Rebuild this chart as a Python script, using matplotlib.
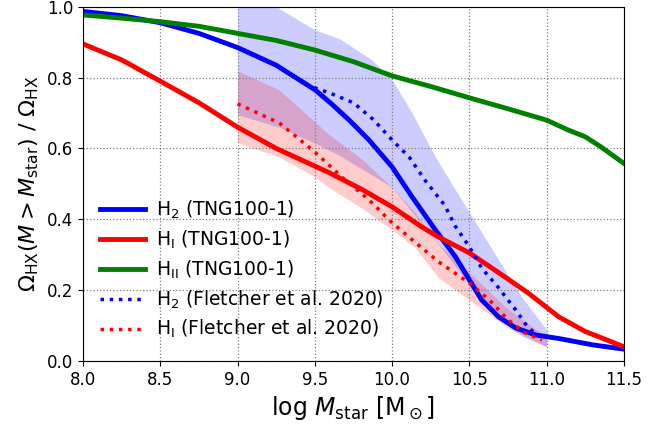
import matplotlib
matplotlib.use("Agg")
import matplotlib.pyplot as plt

# TNG100-1 cumulative fractions
x_h2 = [8.0, 8.25, 8.5, 8.75, 9.0, 9.25, 9.5, 9.6, 9.72, 9.85, 10.0, 10.13, 10.28, 10.41, 10.5,
        10.58, 10.69, 10.8, 10.93, 11.08, 11.3, 11.5]
y_h2 = [0.987, 0.975, 0.955, 0.925, 0.885, 0.835, 0.766, 0.729, 0.681, 0.624, 0.548, 0.463, 0.37, 0.294, 0.229,
        0.172, 0.124, 0.093, 0.073, 0.063, 0.045, 0.033]

x_hi = [8.0, 8.25, 8.5, 8.75, 9.0, 9.25, 9.5, 9.59, 9.81, 10.0, 10.19, 10.3, 10.5, 10.69, 10.88, 11.08, 11.25, 11.5]
y_hi = [0.895, 0.85, 0.79, 0.729, 0.66, 0.60, 0.55, 0.532, 0.483, 0.435, 0.379, 0.35, 0.305, 0.249, 0.192, 0.124, 0.083, 0.04]

x_hii = [8.0, 8.25, 8.5, 8.75, 8.95, 9.25, 9.5, 9.75, 10.0, 10.25, 10.5, 10.75, 11.0, 11.14, 11.25, 11.35, 11.5]
y_hii = [0.977, 0.968, 0.958, 0.945, 0.929, 0.905, 0.878, 0.845, 0.805, 0.775, 0.743, 0.712, 0.68, 0.652, 0.633, 0.605, 0.558]

# Fletcher et al. 2020
x_f_h2 = [9.44, 9.594, 9.75, 9.88, 10.0, 10.11, 10.22, 10.34, 10.41, 10.5, 10.58, 10.69, 10.8, 10.87, 10.93]
y_f_h2 = [0.78, 0.757, 0.729, 0.681, 0.624, 0.576, 0.506, 0.44, 0.38, 0.322, 0.262, 0.206, 0.144, 0.10, 0.075]

x_f_hi = [9.0, 9.27, 9.5, 9.68, 9.85, 10.0, 10.13, 10.3, 10.5, 10.63, 10.75, 10.86, 10.97]
y_f_hi = [0.726, 0.672, 0.59, 0.517, 0.455, 0.39, 0.342, 0.28, 0.22, 0.172, 0.116, 0.079, 0.059]

# uncertainty bands
x_band_h2 = [9.0, 9.27, 9.5, 9.66, 9.87, 10.0, 10.13, 10.28, 10.45, 10.69, 10.84, 11.0]
up_band_h2 = [1.1, 0.995, 0.935, 0.91, 0.85, 0.794, 0.70, 0.576, 0.455, 0.285, 0.18, 0.088]
lo_band_h2 = [0.695, 0.66, 0.615, 0.58, 0.525, 0.49, 0.42, 0.34, 0.245, 0.12, 0.07, 0.04]

x_band_hi = [9.0, 9.27, 9.5, 9.59, 9.81, 10.0, 10.15, 10.3, 10.5, 10.74, 11.0]
up_band_hi = [0.82, 0.765, 0.675, 0.64, 0.568, 0.49, 0.418, 0.33, 0.25, 0.15, 0.068]
lo_band_hi = [0.616, 0.576, 0.52, 0.49, 0.43, 0.37, 0.32, 0.235, 0.172, 0.096, 0.04]

fig = plt.figure(figsize=(6.7, 4.26), dpi=100)
ax = fig.add_axes([0.124, 0.153, 0.807, 0.831])

ax.fill_between(x_band_h2, lo_band_h2, up_band_h2, color='blue', alpha=0.2, lw=0)
ax.fill_between(x_band_hi, lo_band_hi, up_band_hi, color='red', alpha=0.2, lw=0)

ax.plot(x_h2, y_h2, color='blue', lw=3.5, label=r'H$_2$ (TNG100-1)')
ax.plot(x_hi, y_hi, color='red', lw=3.5, label=r'H$_{\rm I}$ (TNG100-1)')
ax.plot(x_hii, y_hii, color='green', lw=3.5, label=r'H$_{\rm II}$ (TNG100-1)')
ax.plot(x_f_h2, y_f_h2, color='blue', lw=2.5, ls=':', label=r'H$_2$ (Fletcher et al. 2020)')
ax.plot(x_f_hi, y_f_hi, color='red', lw=2.5, ls=':', label=r'H$_{\rm I}$ (Fletcher et al. 2020)')

ax.set_xlim(8.0, 11.5)
ax.set_ylim(0.0, 1.0)
ax.set_xticks([8.0, 8.5, 9.0, 9.5, 10.0, 10.5, 11.0, 11.5])
ax.set_yticks([0.0, 0.2, 0.4, 0.6, 0.8, 1.0])
ax.tick_params(labelsize=12)
ax.grid(True, color='gray', ls=':', lw=0.9)

ax.set_xlabel(r'log $M_{\rm star}$ [M$_\odot$]', fontsize=17)
ax.set_ylabel(r'$\Omega_{\rm HX}(M > M_{\rm star})$ / $\Omega_{\rm HX}$', fontsize=16)

ax.legend(loc='lower left', bbox_to_anchor=(0.0, 0.01), frameon=False, fontsize=13.5,
          handlelength=2.4, handletextpad=0.6, labelspacing=0.4)

fig.savefig('out.png')
